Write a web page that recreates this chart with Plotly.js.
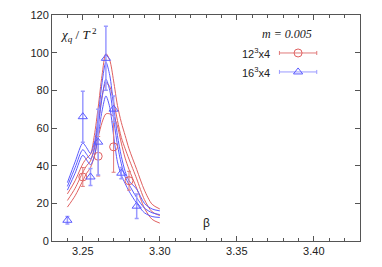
<!DOCTYPE html>
<html><head><meta charset="utf-8">
<script src="https://cdn.plot.ly/plotly-3.0.1.min.js"></script>
<style>html,body{margin:0;padding:0;background:#fff}#chart{width:382px;height:267px}</style>
</head><body><div id="chart"></div>
<script>
// reweighting curves (beta grid shared)
const betaGrid   = [3.240,3.245,3.250,3.2525,3.255,3.2575,3.260,3.2625,3.265,3.2675,3.270,3.2725,3.275,3.2775,3.280,3.285,3.290,3.295,3.300];
const fit12Upper = [25,   32,   41,   44,    46,   56,    71,   88,    99.5, 96,    85,   72,    63,   56,    49,   38,   27,   19.5, 17];
const fit12Mid   = [21.5, 28,   36.5, 40,    42.5, 50,    62,   77,    84,   82,    74,   64,    55,   49,    43.5, 33,   22,   15.5, 13.5];
const fit12Lower = [18,   24,   32,   36,    39,   45,    55,   63,    67.5, 67.5,  66,   61,    52,   44,    38,   28,   17.5, 11.5, 9.5];
const fit16Upper = [31,   42,   52,   49.5,  46.5, 52,    66,   84,    95,   88,    72,   56,    45,   37,    32,   27.5, 20,   17,   16];
const fit16Mid   = [29,   39,   48.5, 46,    43.5, 48.5,  61,   76,    86,   80,    65,   51,    41,   34,    30,   23,   17.5, 15,   14];
const fit16Lower = [27,   36,   45.5, 43,    40.5, 45,    56,   69,    77,   71,    56,   42,    35,   30.5,  26.5, 20,   15,   13,   12.5];

// data points
const beta12 = [3.25, 3.26, 3.27, 3.28];
const chi12  = [34,   45,   50,   32];
const err12  = [5,    10.5, 13.5, 5];
const beta16 = [3.24, 3.25, 3.255, 3.26, 3.265, 3.27, 3.275, 3.285];
const chi16  = [11,   66,   34,    52.5, 97,    70,   36,    18.5];
const err16  = [2,    13.5, 4.5,   17.5, 17,    7,    3,     6.5];

// ticks & labels
const xTickVals = [3.25, 3.30, 3.35, 3.40];
const xTickText = ['3.25', '3.30', '3.35', '3.40'];
const yTickVals = [0, 20, 40, 60, 80, 100, 120];
const name12 = '12<sup>3</sup>x4';
const name16 = '16<sup>3</sup>x4';
const massLabel = '<i>m = 0.005</i>';

const RED = '#e06060', BLUE = '#5a5aff', BLUE_ERR = '#9a9aff', RED_ERR = '#e07a7a';

function curve(y, color) {
  return {x: betaGrid, y: y, type: 'scatter', mode: 'lines', showlegend: false,
          line: {color: color, width: 1, shape: 'spline', smoothing: 0.8}, hoverinfo: 'skip'};
}
const traces = [
  curve(fit12Upper, RED), curve(fit12Mid, RED), curve(fit12Lower, RED),
  curve(fit16Upper, BLUE), curve(fit16Mid, BLUE), curve(fit16Lower, BLUE),
  {x: beta12, y: chi12, type: 'scatter', mode: 'markers', name: name12, showlegend: false,
   marker: {symbol: 'circle-open', size: 8, color: RED, line: {width: 1, color: RED}},
   error_y: {type: 'data', array: err12, visible: true, color: RED_ERR, thickness: 1, width: 2}},
  {x: beta16, y: chi16, type: 'scatter', mode: 'markers', name: name16, showlegend: false,
   marker: {symbol: 'triangle-up-open', size: 8, color: BLUE, line: {width: 1, color: BLUE}},
   error_y: {type: 'data', array: err16, visible: true, color: BLUE_ERR, thickness: 1.5, width: 2}},
  // legend keys on an overlay (fraction) axis
  {x: [0.799], y: [0.832], xaxis: 'x2', yaxis: 'y2', type: 'scatter', mode: 'markers', showlegend: false,
   marker: {symbol: 'circle-open', size: 8, color: RED, line: {width: 1, color: RED}},
   error_x: {type: 'constant', value: 0.0606, visible: true, color: RED_ERR, thickness: 1, width: 2}},
  {x: [0.799], y: [0.748], xaxis: 'x2', yaxis: 'y2', type: 'scatter', mode: 'markers', showlegend: false,
   marker: {symbol: 'triangle-up-open', size: 8, color: BLUE, line: {width: 1, color: BLUE}},
   error_x: {type: 'constant', value: 0.0606, visible: true, color: BLUE_ERR, thickness: 1, width: 2}}
];

const axisCol = '#555';
const layout = {
  width: 382, height: 267,
  margin: {l: 52, r: 22, t: 15, b: 26},
  paper_bgcolor: '#fff', plot_bgcolor: '#fff',
  showlegend: false,
  font: {family: 'Liberation Sans, Arial, sans-serif', size: 11, color: '#222'},
  xaxis: {range: [3.23, 3.43], tickvals: xTickVals, ticktext: xTickText,
          ticks: 'inside', ticklen: 5, tickcolor: axisCol, showline: true, linecolor: axisCol, linewidth: 1,
          mirror: 'ticks', showgrid: false, zeroline: false,
          minor: {dtick: 0.01, tick0: 3.23, ticks: 'inside', ticklen: 3, tickcolor: axisCol, showgrid: false}},
  yaxis: {range: [0, 120], tickvals: yTickVals, ticks: 'inside', ticklen: 5, tickcolor: axisCol,
          showline: true, linecolor: axisCol, linewidth: 1, mirror: 'ticks', showgrid: false, zeroline: false},
  xaxis2: {overlaying: 'x', range: [0, 1], visible: false, fixedrange: true},
  yaxis2: {overlaying: 'y', range: [0, 1], visible: false, fixedrange: true},
  annotations: [
    {xref: 'paper', yref: 'paper', x: 0.02, y: 0.91, xanchor: 'left', yanchor: 'middle', showarrow: false,
     text: '<i>χ</i><sub><i>q</i></sub> / <i>T</i><sup> 2</sup>', font: {family: 'Liberation Serif, Times New Roman, serif', size: 13, color: '#111'}},
    {xref: 'paper', yref: 'paper', x: 0.503, y: 0.08, xanchor: 'center', yanchor: 'middle', showarrow: false,
     text: 'β', font: {size: 12, color: '#222'}},
    {xref: 'paper', yref: 'paper', x: 0.763, y: 0.916, xanchor: 'center', yanchor: 'middle', showarrow: false,
     text: massLabel, font: {family: 'Liberation Serif, Times New Roman, serif', size: 12, color: '#222'}},
    {xref: 'paper', yref: 'paper', x: 0.714, y: 0.832, xanchor: 'right', yanchor: 'middle', showarrow: false,
     text: name12, font: {size: 11, color: '#222'}},
    {xref: 'paper', yref: 'paper', x: 0.714, y: 0.748, xanchor: 'right', yanchor: 'middle', showarrow: false,
     text: name16, font: {size: 11, color: '#222'}}
  ]
};
Plotly.newPlot('chart', traces, layout, {staticPlot: true, displayModeBar: false});
</script></body></html>
